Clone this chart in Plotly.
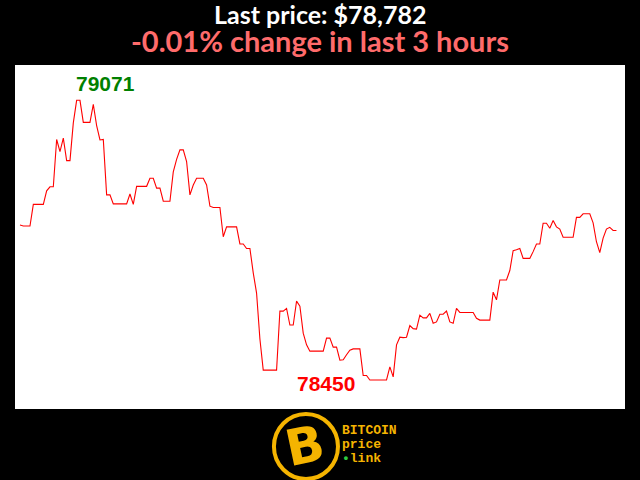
import plotly.graph_objects as go

# Price samples, one per minute over the last 3 hours
prices = [
    78794, 78792, 78792, 78792, 78840, 78840, 78840, 78840, 78870, 78879,
    78879, 78984, 78957, 78987, 78937, 78937, 79021, 79071, 79071, 79022,
    79022, 79022, 79062, 79015, 78983, 78984, 78861, 78861, 78841, 78841,
    78841, 78841, 78841, 78863, 78840, 78880, 78880, 78880, 78880, 78898,
    78898, 78876, 78876, 78847, 78847, 78847, 78912, 78940, 78961, 78961,
    78935, 78861, 78883, 78898, 78898, 78898, 78883, 78836, 78833, 78833,
    78833, 78768, 78790, 78790, 78790, 78790, 78752, 78752, 78742, 78742,
    78688, 78643, 78541, 78472, 78472, 78472, 78472, 78472, 78603, 78603,
    78609, 78572, 78572, 78625, 78614, 78554, 78528, 78514, 78514, 78514,
    78514, 78514, 78543, 78543, 78523, 78523, 78494, 78495, 78506, 78516,
    78519, 78519, 78519, 78460, 78460, 78450, 78450, 78450, 78450, 78450,
    78450, 78479, 78457, 78528, 78545, 78544, 78545, 78571, 78564, 78563,
    78594, 78588, 78588, 78598, 78576, 78579, 78596, 78596, 78603, 78579,
    78576, 78609, 78600, 78600, 78600, 78600, 78600, 78587, 78583, 78583,
    78583, 78583, 78645, 78628, 78672, 78672, 78672, 78693, 78737, 78739,
    78742, 78720, 78720, 78720, 78735, 78752, 78752, 78798, 78798, 78787,
    78804, 78790, 78785, 78767, 78767, 78767, 78767, 78811, 78811, 78819,
    78819, 78819, 78799, 78757, 78733, 78765, 78785, 78789, 78782, 78782,
]
minutes = list(range(len(prices)))

title_line1 = "Last price: $78,782"
title_line2 = "-0.01% change in last 3 hours"
logo_lines = ["BITCOIN", "price", "link"]

max_val = max(prices)
min_val = min(prices)
max_idx = prices.index(max_val)
min_idx = prices.index(min_val)

GOLD = "#F5B400"

fig = go.Figure()
fig.add_trace(go.Scatter(
    x=minutes, y=prices, mode="lines",
    line=dict(color="#FF0000", width=1.1),
    hoverinfo="skip", showlegend=False,
))

fig.add_annotation(
    x=max_idx, y=max_val, text=f"<b>{max_val}</b>", showarrow=False,
    xanchor="left", yanchor="middle", yshift=17, xshift=-3,
    font=dict(family="Liberation Sans, Arial", size=21, color="#008000"),
)
fig.add_annotation(
    x=min_idx, y=min_val, text=f"<b>{min_val}</b>", showarrow=False,
    xanchor="center", yanchor="middle", yshift=-3, xshift=-44,
    font=dict(family="Liberation Sans, Arial", size=21, color="#FF0000"),
)

# Titles
fig.add_annotation(
    xref="paper", yref="paper", x=0.5, y=1.147, text=f"<b>{title_line1}</b>",
    showarrow=False, xanchor="center", yanchor="middle",
    font=dict(family="Lato", size=25, color="#FFFFFF"),
)
fig.add_annotation(
    xref="paper", yref="paper", x=0.5, y=1.070, text=f"<b>{title_line2}</b>",
    showarrow=False, xanchor="center", yanchor="middle",
    font=dict(family="Lato", size=29, color="#FF6B6B"),
)

# Logo (bottom)
fig.add_shape(
    type="circle", xref="paper", yref="paper",
    x0=0.4245, x1=0.5295, y0=-0.2035, y1=-0.0145,
    line=dict(color=GOLD, width=4), fillcolor="#000000", layer="above",
)
fig.add_annotation(
    xref="paper", yref="paper", x=0.4754, y=-0.109, text="<b>B</b>",
    showarrow=False, xanchor="center", yanchor="middle", textangle=-12,
    font=dict(family="DejaVu Sans", size=50, color=GOLD),
)
logo_texts = [
    f"<b>{logo_lines[0]}</b>",
    f"<b>{logo_lines[1]}</b>",
    f"<b><span style='color:#2ECC40'>•</span>{logo_lines[2]}</b>",
]
logo_y = [-0.0625, -0.1045, -0.1425]
for txt, yy in zip(logo_texts, logo_y):
    fig.add_annotation(
        xref="paper", yref="paper", x=0.5330, y=yy, text=txt,
        showarrow=False, xanchor="left", yanchor="middle",
        font=dict(family="Liberation Mono", size=13, color=GOLD),
    )

fig.update_layout(
    width=640, height=480,
    paper_bgcolor="#000000", plot_bgcolor="#FFFFFF",
    margin=dict(l=15, r=15, t=65, b=71),
    showlegend=False,
    xaxis=dict(range=[-1.5, 181.57], visible=False, fixedrange=True),
    yaxis=dict(range=[78385.6, 79149.4], visible=False, fixedrange=True),
)

fig.write_html(
    "out.html",
    config={"displayModeBar": False},
    post_script="document.body.style.margin='0';document.body.style.background='#000';",
)
